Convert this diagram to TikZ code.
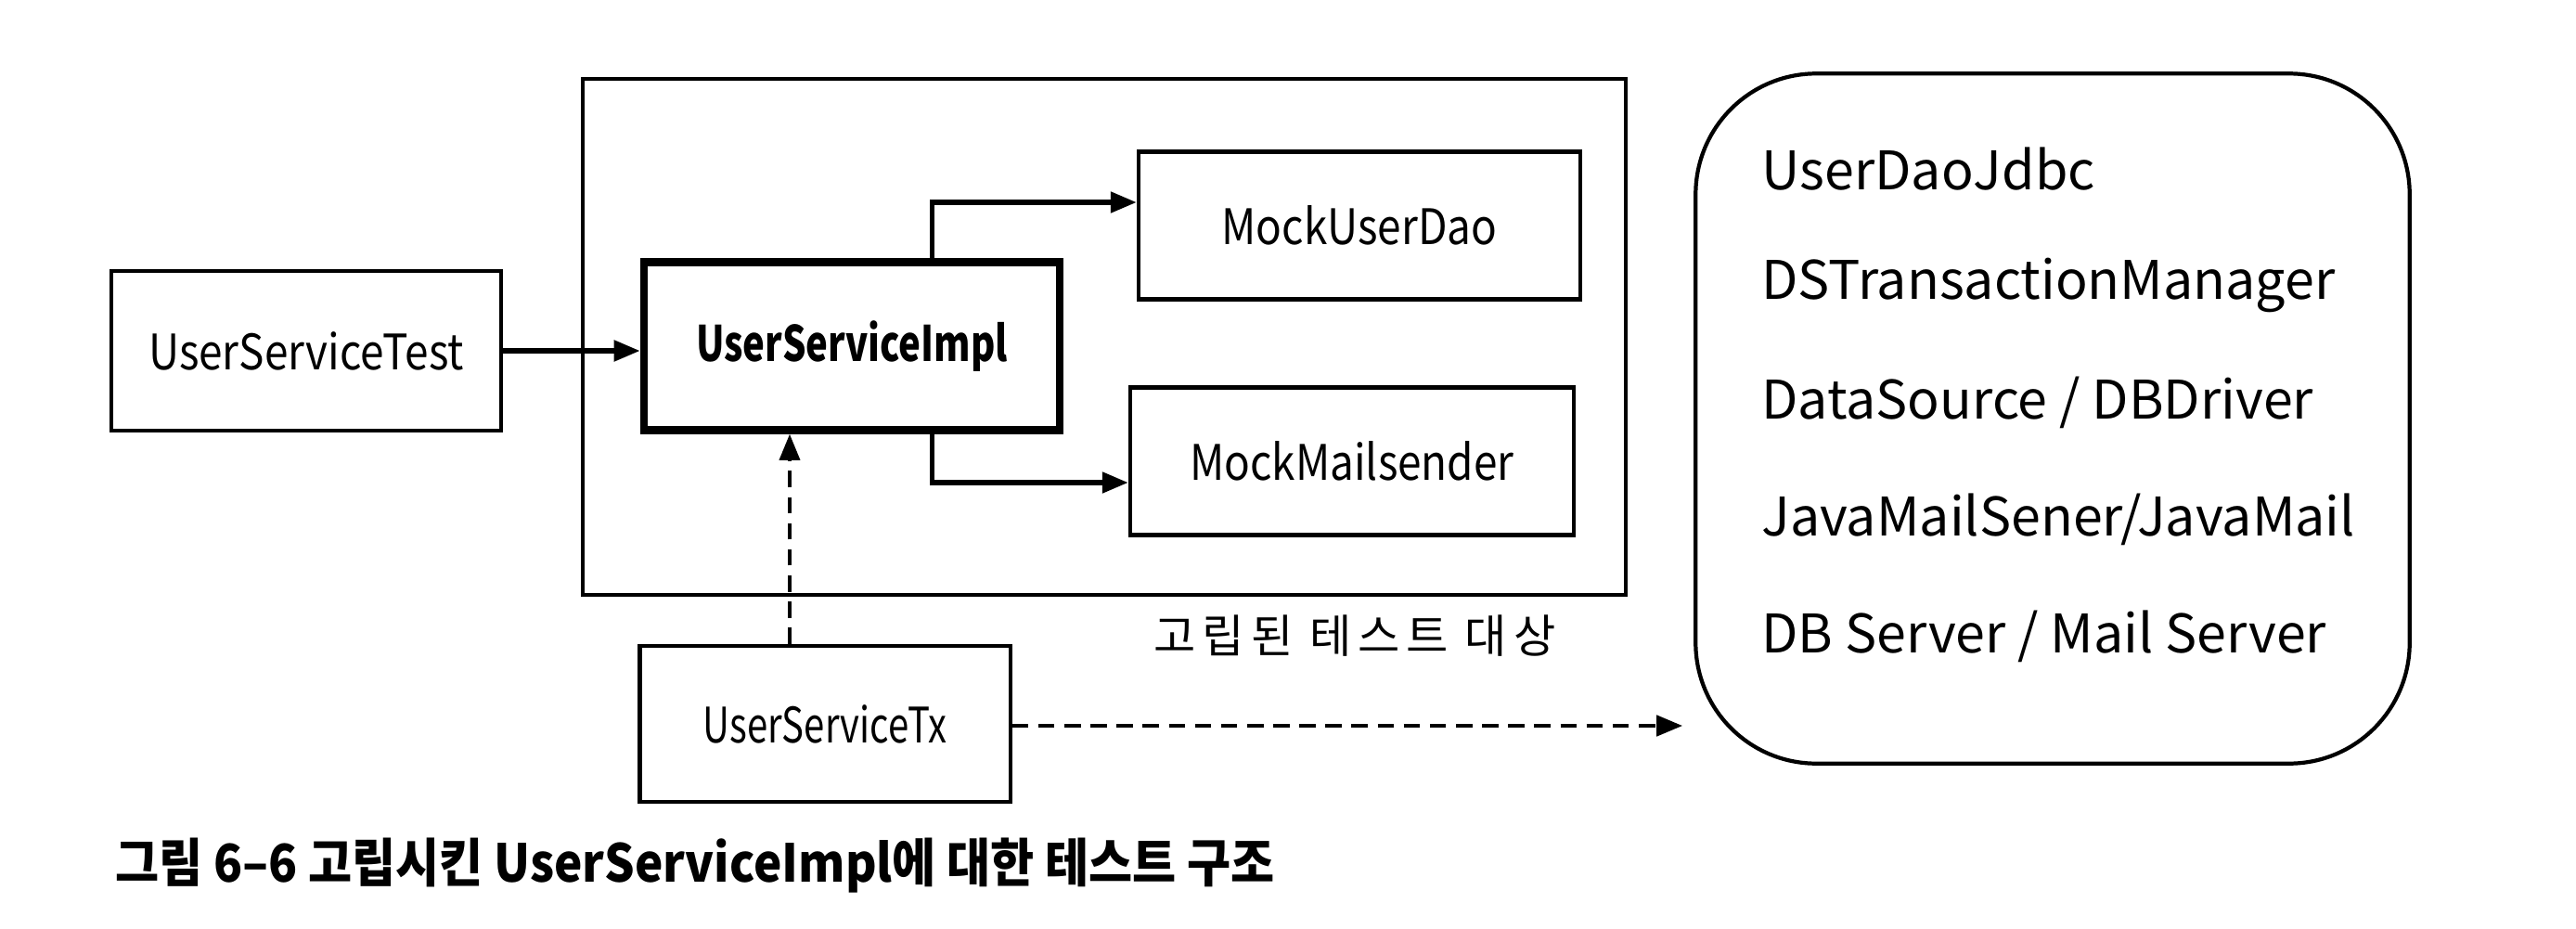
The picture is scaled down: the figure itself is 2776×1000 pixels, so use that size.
\documentclass[tikz,border=0pt]{standalone}
\usepackage{fontspec}
\setmainfont{Noto Sans CJK KR}
\newfontfamily\boxfont[FakeStretch=0.87]{Noto Sans CJK KR}
\newfontfamily\implfont[FakeStretch=0.76]{Noto Sans CJK KR}
\newfontfamily\capfont[FakeStretch=0.91]{Noto Sans CJK KR}
\usetikzlibrary{matrix,arrows.meta}

\begin{document}
\begin{tikzpicture}[
  x=0.01cm, y=-0.01cm,
  box/.style={draw, line width=1.2pt, font=\boxfont\fontsize{15}{18}\selectfont},
  arr/.style={line width=1.5pt, -{Triangle[length=0.28cm,width=0.22cm]}},
  dasharr/.style={arr, line width=1.3pt, dash pattern=on 5pt off 3pt}
]
\useasboundingbox (0,0) rectangle (2776,1000);

% isolated target
\node (target) [draw, line width=1.2pt, minimum width=11.24cm, minimum height=5.56cm] at (1190,363) {};
\node (targetlabel) [font=\fontsize{14}{16}\selectfont\addfontfeature{LetterSpace=14}] at (1460,685) {고립된 테스트 대상};

\node (test) [box, minimum width=4.2cm, minimum height=1.72cm] at (330,378) {UserServiceTest};
\node (impl) [box, line width=2.4pt, minimum width=4.48cm, minimum height=1.81cm, font=\implfont\bfseries\fontsize{15}{18}\selectfont] at (918,373) {UserServiceImpl};
\node (dao) [box, minimum width=4.76cm, minimum height=1.59cm] at (1465,243) {MockUserDao};
\node (mail) [box, minimum width=4.78cm, minimum height=1.59cm] at (1457,497) {MockMailsender};
\node (tx) [box, minimum width=3.99cm, minimum height=1.68cm, font=\implfont\fontsize{15}{18}\selectfont] at (889,780) {UserServiceTx};

% real dependencies
\node (env) [draw, line width=1.2pt, rounded corners=1.3cm, minimum width=7.69cm, minimum height=7.43cm] at (2212,451) {};
\matrix (deps) [
  matrix of nodes,
  anchor=west,
  nodes={anchor=west, inner sep=0pt, minimum height=1.26cm, font=\fontsize{16.3}{19}\selectfont},
  row sep=0pt
] at (1886,434)
{
  UserDaoJdbc \\
  DSTransactionManager \\
  DataSource / DBDriver \\
  JavaMailSener/JavaMail \\
  DB Server / Mail Server \\
};

\coordinate (daoturn) at ([xshift=-1.42cm]impl.north east);
\coordinate (mailturn) at ([xshift=-1.42cm]impl.south east);
\coordinate (txtop) at ([xshift=-0.38cm]tx.north);
\coordinate (envin) at ([xshift=-0.12cm]env.west |- 0,782);

\draw[arr] (test.east |- 0,378) -- (impl.west |- 0,378);
\draw[arr] (daoturn) |- (dao.west |- 0,218);
\draw[arr] (mailturn) |- (mail.west |- 0,520);
\draw[dasharr, line width=1pt] (txtop) -- (txtop |- impl.south);
\draw[dasharr] (tx.east |- 0,782) -- (envin);

\node (caption) [anchor=west, font=\capfont\bfseries\fontsize{16}{19}\selectfont] at (112,933) {그림 6–6 고립시킨 UserServiceImpl에 대한 테스트 구조};

\end{tikzpicture}
\end{document}
